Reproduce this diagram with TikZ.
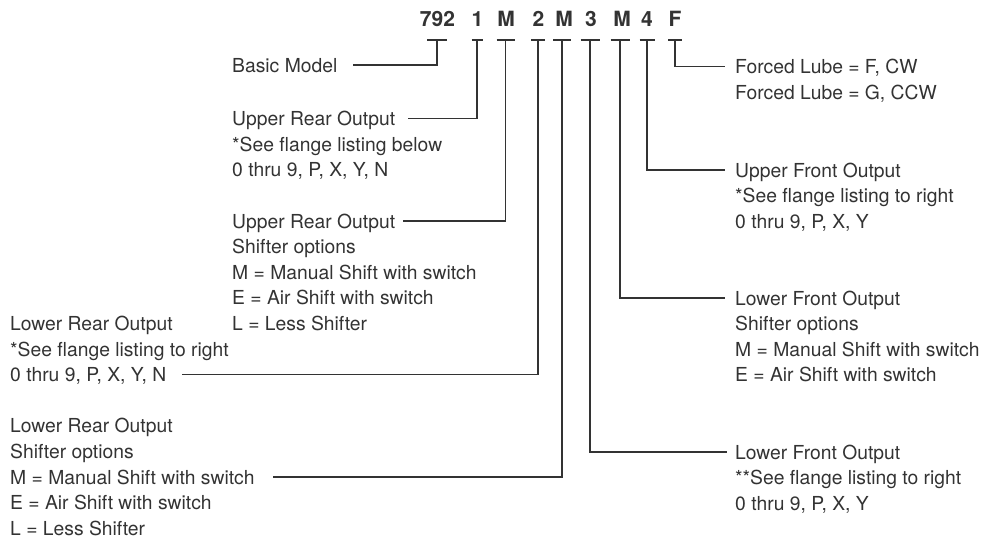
\documentclass[tikz,border=0pt]{standalone}
\usepackage{fontspec}
\setmainfont{TeX Gyre Heros}
\definecolor{ink}{HTML}{333333}

\begin{document}
\begin{tikzpicture}[
        x=1pt, y=-1pt,
        code/.style={font=\fontsize{21}{21}\selectfont\bfseries, inner sep=0pt,
                     text height=15pt, text depth=0pt, text=ink},
        txt/.style={anchor=west, inner sep=0pt, text height=14pt, text depth=0pt,
                    font=\fontsize{19.3}{24}\selectfont, text=ink},
        lead/.style={draw=ink, line width=1.1pt},
        bar/.style={draw=ink, line width=1.1pt}
    ]
        \useasboundingbox (0,0) rectangle (985,538);

        % model code
        \node[code] (c792) at (437.5, 19.5) {792};
        \node[code] (c1)   at (477.5, 19.5) {1};
        \node[code] (cM1)  at (506.0, 19.5) {M};
        \node[code] (c2)   at (538.5, 19.5) {2};
        \node[code] (cM2)  at (564.0, 19.5) {M};
        \node[code] (c3)   at (591.0, 19.5) {3};
        \node[code] (cM3)  at (622.0, 19.5) {M};
        \node[code] (c4)   at (647.0, 19.5) {4};
        \node[code] (cF)   at (675.0, 19.5) {F};

        \coordinate (t792) at (437.0, 40);
        \coordinate (t1)   at (477.0, 40);
        \coordinate (tM1)  at (505.5, 40);
        \coordinate (t2)   at (538.0, 40);
        \coordinate (tM2)  at (562.0, 40);
        \coordinate (t3)   at (590.0, 40);
        \coordinate (tM3)  at (620.0, 40);
        \coordinate (t4)   at (647.0, 40);
        \coordinate (tF)   at (675.0, 40);

        \draw[bar] ([xshift=-10pt]t792) -- ([xshift=10pt]t792);
        \draw[bar] ([xshift=-5.5pt]t1)  -- ([xshift=5.5pt]t1);
        \draw[bar] ([xshift=-9pt]tM1)   -- ([xshift=9pt]tM1);
        \draw[bar] ([xshift=-7pt]t2)    -- ([xshift=7pt]t2);
        \draw[bar] ([xshift=-9pt]tM2)   -- ([xshift=9pt]tM2);
        \draw[bar] ([xshift=-9.5pt]t3)  -- ([xshift=9.5pt]t3);
        \draw[bar] ([xshift=-9.5pt]tM3) -- ([xshift=9.5pt]tM3);
        \draw[bar] ([xshift=-7.5pt]t4)  -- ([xshift=7.5pt]t4);
        \draw[bar] ([xshift=-7pt]tF)    -- ([xshift=7pt]tF);

        % left labels
        \node[txt] (basic) at (232,  65.0) {Basic Model};

        \node[txt] (uroA)  at (232, 118.5) {Upper Rear Output};
        \node[txt] (uroB)  at (232, 144.1) {*See flange listing below};
        \node[txt] (uroC)  at (232, 169.7) {0 thru 9, P, X, Y, N};

        \node[txt] (ursA)  at (232, 221.0) {Upper Rear Output};
        \node[txt] (ursB)  at (232, 246.6) {Shifter options};
        \node[txt] (ursC)  at (232, 272.2) {M = Manual Shift with switch};
        \node[txt] (ursD)  at (232, 297.8) {E = Air Shift with switch};
        \node[txt] (ursE)  at (232, 323.4) {L = Less Shifter};

        \node[txt] (lroA)  at (10, 323.4) {Lower Rear Output};
        \node[txt] (lroB)  at (10, 349.0) {*See flange listing to right};
        \node[txt] (lroC)  at (10, 374.6) {0 thru 9, P, X, Y, N};

        \node[txt] (lrsA)  at (10, 425.8) {Lower Rear Output};
        \node[txt] (lrsB)  at (10, 451.4) {Shifter options};
        \node[txt] (lrsC)  at (10, 477.0) {M = Manual Shift with switch};
        \node[txt] (lrsD)  at (10, 502.6) {E = Air Shift with switch};
        \node[txt] (lrsE)  at (10, 528.2) {L = Less Shifter};

        % right labels
        \node[txt] (flA)   at (735,  66.5) {Forced Lube = F, CW};
        \node[txt] (flB)   at (735,  92.1) {Forced Lube = G, CCW};

        \node[txt] (ufoA)  at (735, 170.0) {Upper Front Output};
        \node[txt] (ufoB)  at (735, 195.6) {*See flange listing to right};
        \node[txt] (ufoC)  at (735, 221.2) {0 thru 9, P, X, Y};

        \node[txt] (lfsA)  at (735, 298.0) {Lower Front Output};
        \node[txt] (lfsB)  at (735, 323.6) {Shifter options};
        \node[txt] (lfsC)  at (735, 349.2) {M = Manual Shift with switch};
        \node[txt] (lfsD)  at (735, 374.8) {E = Air Shift with switch};

        \node[txt] (lfoA)  at (735, 452.0) {Lower Front Output};
        \node[txt] (lfoB)  at (735, 477.6) {**See flange listing to right};
        \node[txt] (lfoC)  at (735, 503.2) {0 thru 9, P, X, Y};

        % leaders
        \draw[lead] (t792) |- ([xshift=15pt]basic.east);
        \draw[lead] (t1)   |- ([xshift=13pt]uroA.east);
        \draw[lead] (tM1)  |- ([xshift=8pt]ursA.east);
        \draw[lead] (t2)   |- ([xshift=15pt]lroC.east);
        \draw[lead] (tM2)  |- ([xshift=18pt]lrsC.east);
        \draw[lead] (t3)   |- ([xshift=-8pt]lfoA.west);
        \draw[lead] (tM3)  |- ([xshift=-10pt]lfsA.west);
        \draw[lead] (t4)   |- ([xshift=-10pt]ufoA.west);
        \draw[lead] (tF)   |- ([xshift=-10pt]flA.west);
    \end{tikzpicture}
\end{document}
